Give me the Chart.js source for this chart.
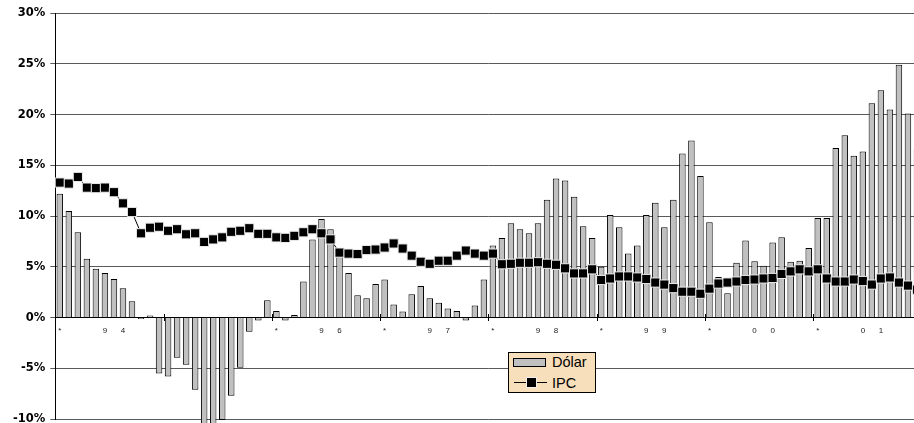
<!DOCTYPE html>
<html>
<head>
<meta charset="utf-8">
<script src="https://cdn.jsdelivr.net/npm/chart.js@4.4.1/dist/chart.umd.min.js"></script>
<style>
  html, body { margin: 0; padding: 0; overflow: hidden; background: #fff; }
  #wrap { position: relative; width: 929px; height: 431px; }
  #legend {
    position: absolute; left: 508px; top: 352px; width: 86px; height: 39px;
    background: #f6dfba; border: 1px solid #000;
    font-family: "Liberation Sans", Arial, sans-serif; font-size: 14.5px; color: #000;
  }
  #legend .swatch { position: absolute; left: 4px; top: 5px; width: 33px; height: 9px;
    box-sizing: border-box; background: #c0c0c0; border: 1px solid #000; }
  #legend .ln { position: absolute; left: 5px; top: 29px; width: 33px; height: 1px; background: #000; }
  #legend .mk { position: absolute; left: 17px; top: 24px; width: 11px; height: 11px;
    box-sizing: border-box; background: #000; border: 1px solid #eee; }
  #legend .txt { position: absolute; left: 43px; line-height: 16px; white-space: nowrap; }
</style>
</head>
<body>
<div id="wrap">
  <canvas id="chart"></canvas>
  <div id="legend">
    <div class="swatch"></div><span class="txt" style="top:1px">Dólar</span>
    <div class="ln"></div><div class="mk"></div><span class="txt" style="top:22px">IPC</span>
  </div>
</div>
<script>
// Years shown on the category axis (two digits each)
const years = ['94', '95', '96', '97', '98', '99', '00', '01'];

// Monthly change of the dollar, % (Jan 1994 – Dec 2001)
const dolar = [
  12.2, 10.5, 8.4, 5.8, 4.8, 4.4, 3.8, 2.9, 1.6, -0.15, 0.2, -5.5,
  -5.8, -3.95, -4.65, -7.1, -10.8, -10.8, -10.1, -7.7, -4.95, -1.4, -0.3, 1.7,
  0.65, -0.3, 0.25, 3.55, 7.7, 9.7, 8.7, 6.2, 4.4, 2.2, 1.9, 3.3,
  3.75, 1.3, 0.6, 2.3, 3.1, 1.9, 1.45, 0.9, 0.65, -0.3, 1.2, 3.75,
  7.1, 7.85, 9.3, 8.7, 8.3, 9.3, 11.6, 13.7, 13.5, 11.9, 9.0, 7.85,
  5.0, 10.1, 8.9, 6.3, 7.1, 10.1, 11.3, 8.9, 11.6, 16.15, 17.45, 13.95,
  9.4, 4.0, 2.4, 5.4, 7.6, 5.55, 5.1, 7.4, 7.9, 5.5, 5.6, 6.85,
  9.8, 9.8, 16.7, 17.95, 15.95, 16.35, 21.1, 22.4, 20.5, 24.9, 20.1, 16.6
];

// Monthly consumer price index change, % (same months)
const ipc = [
  13.3, 13.2, 13.85, 12.8, 12.75, 12.8, 12.35, 11.25, 10.4, 8.3, 8.85, 8.95,
  8.55, 8.7, 8.2, 8.3, 7.45, 7.7, 7.9, 8.45, 8.55, 8.8, 8.25, 8.25,
  7.9, 7.85, 8.05, 8.4, 8.7, 8.3, 7.7, 6.4, 6.3, 6.25, 6.65, 6.7,
  6.9, 7.3, 6.8, 6.1, 5.5, 5.3, 5.6, 5.6, 6.1, 6.6, 6.3, 6.1,
  6.3, 5.25, 5.3, 5.4, 5.4, 5.45, 5.3, 5.2, 4.85, 4.35, 4.35, 4.75,
  3.7, 3.85, 4.05, 4.05, 3.95, 3.8, 3.45, 3.25, 2.9, 2.55, 2.55, 2.35,
  2.85, 3.35, 3.45, 3.55, 3.7, 3.75, 3.85, 3.9, 4.3, 4.55, 4.75, 4.55,
  4.75, 3.85, 3.55, 3.55, 3.75, 3.6, 3.25, 3.85, 3.95, 3.45, 3.15, 2.75
];

// Y axis tick values, %
const yTicks = [-10, -5, 0, 5, 10, 15, 20, 25, 30];

// Category labels: '*' marks January, the year digits sit mid-year
const categories = [];
years.forEach(y => {
  for (let m = 0; m < 12; m++) {
    categories.push(m === 0 ? '*' : m === 5 ? y[0] : m === 7 ? y[1] : '');
  }
});

// Short tick marks crossing the zero axis at each year boundary
const yearTicks = {
  id: 'yearTicks',
  afterDatasetsDraw(chart) {
    const xs = chart.scales.x, ys = chart.scales.y, ctx = chart.ctx;
    const y0 = Math.round(ys.getPixelForValue(0));
    const half = (xs.getPixelForValue(1) - xs.getPixelForValue(0)) / 2;
    ctx.save();
    ctx.strokeStyle = '#000';
    ctx.lineWidth = 1;
    for (let i = 12; i < categories.length; i += 12) {
      const px = Math.round(xs.getPixelForValue(i) - half) + 0.5;
      ctx.beginPath();
      ctx.moveTo(px, y0 - 4);
      ctx.lineTo(px, y0 + 3);
      ctx.stroke();
    }
    ctx.restore();
  }
};

new Chart(document.getElementById('chart'), {
  type: 'bar',
  data: {
    labels: categories,
    datasets: [
      {
        type: 'line', label: 'IPC', data: ipc, order: 0,
        borderColor: '#000', borderWidth: 1, tension: 0,
        pointStyle: 'rect', pointRadius: 6.5, pointHoverRadius: 6.5,
        pointBackgroundColor: '#000', pointBorderColor: '#eeeeee', pointBorderWidth: 1,
        clip: false
      },
      {
        type: 'bar', label: 'Dólar', data: dolar, order: 1,
        backgroundColor: '#c0c0c0', borderColor: '#000', borderWidth: 1,
        barPercentage: 0.72, categoryPercentage: 1, clip: false
      }
    ]
  },
  options: {
    responsive: true,
    maintainAspectRatio: false,
    devicePixelRatio: 1,
    animation: false,
    layout: { padding: { left: 8, right: 0, top: 13, bottom: 5 } },
    plugins: { legend: { display: false }, tooltip: { enabled: false } },
    scales: {
      x: {
        position: { y: 0 },
        offset: true,
        grid: { display: true, drawOnChartArea: false, drawTicks: false, color: 'transparent' },
        border: { display: true, color: '#000', width: 1 },
        ticks: {
          autoSkip: false, maxRotation: 0, minRotation: 0, padding: 8,
          font: { family: 'Liberation Sans', size: 8 }, color: '#222'
        }
      },
      y: {
        min: yTicks[0], max: yTicks[yTicks.length - 1],
        afterBuildTicks: scale => { scale.ticks = yTicks.map(v => ({ value: v })); },
        ticks: {
          callback: v => v + '%', padding: 5,
          font: { family: 'DejaVu Sans', size: 11.5, weight: 'bold' }, color: '#000'
        },
        grid: {
          color: c => (c.tick && c.tick.value === 0 ? '#000' : '#5a5a5a'),
          tickColor: '#5a5a5a', tickLength: 5, lineWidth: 1
        },
        border: { display: true, color: '#000', width: 1 }
      }
    }
  },
  plugins: [yearTicks]
});
</script>
</body>
</html>
